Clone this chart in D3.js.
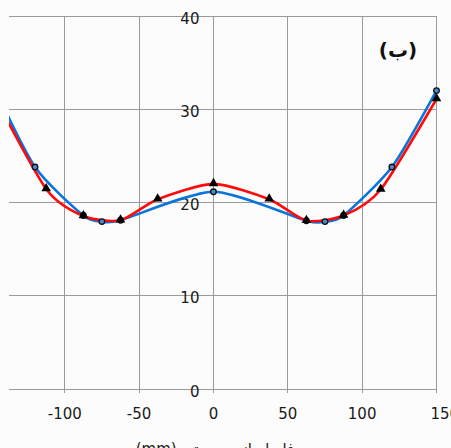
<!DOCTYPE html>
<html>
<head>
<meta charset="utf-8">
<script src="https://cdn.jsdelivr.net/npm/d3@7"></script>
<style>
  html, body { margin: 0; padding: 0; background: #fcfcfc; }
  svg { display: block; }
</style>
</head>
<body>
<svg id="chart" width="451" height="448"></svg>
<script>
// Distance from axis (mm) and measured values for the two profiles
const blueX = [-150, -120, -87.5, -75, -62.5, 0, 62.5, 75, 87.5, 120, 150];
const blueY = [33.2, 23.8, 18.6, 17.95, 18.1, 21.15, 18.05, 17.95, 18.6, 23.8, 32];
const redX  = [-150, -112.5, -87.5, -62.5, -37.5, 0, 37.5, 62.5, 87.5, 112.5, 150];
const redY  = [32.2, 21.45, 18.55, 18.1, 20.35, 22, 20.35, 18.05, 18.6, 21.4, 31.1];

const xTicks = [-100, -50, 0, 50, 100, 150];
const yTicks = [0, 10, 20, 30, 40];
const xTitle = "فاصله از محور تیر (mm)";
const panelLabel = "(ب)";

const svg = d3.select("#chart");
const plotLeft = 9, plotRight = 436.5, plotTop = 16, plotBottom = 389;

const x = d3.scaleLinear().domain([-137.5, 150]).range([plotLeft, plotRight]);
const y = d3.scaleLinear().domain([0, 40]).range([plotBottom, plotTop]);

const gridColor = "#9a9a9a";
const font = "'DejaVu Sans', Verdana, sans-serif";

// gridlines
const grid = svg.append("g");
grid.selectAll("line.v").data(xTicks).enter().append("line")
  .attr("x1", d => x(d)).attr("x2", d => x(d))
  .attr("y1", plotTop).attr("y2", plotBottom + 4)
  .attr("stroke", gridColor).attr("stroke-width", 1).attr("shape-rendering", "crispEdges");
grid.selectAll("line.h").data(yTicks).enter().append("line")
  .attr("x1", plotLeft).attr("x2", plotRight)
  .attr("y1", d => y(d)).attr("y2", d => y(d))
  .attr("stroke", gridColor).attr("stroke-width", 1).attr("shape-rendering", "crispEdges");

// y tick labels next to the vertical axis at x = 0
svg.append("g").selectAll("text").data(yTicks).enter().append("text")
  .attr("x", x(0) - 14)
  .attr("y", d => Math.max(y(d) + 3, plotTop + 1))
  .attr("text-anchor", "end")
  .attr("dominant-baseline", "middle")
  .attr("font-family", font).attr("font-size", 15)
  .attr("fill", "#1a1a1a")
  .text(d => d);

// x tick labels (the last one sits flush with the right edge)
svg.append("g").selectAll("text").data(xTicks).enter().append("text")
  .attr("x", d => d === xTicks[xTicks.length - 1] ? x(d) - 6 : x(d))
  .attr("y", 414)
  .attr("text-anchor", d => d === xTicks[xTicks.length - 1] ? "start" : "middle")
  .attr("dominant-baseline", "middle")
  .attr("font-family", font).attr("font-size", 15)
  .attr("fill", "#1a1a1a")
  .text(d => d);

// axis title
svg.append("text")
  .attr("x", 215).attr("y", 454)
  .attr("text-anchor", "middle")
  .attr("direction", "rtl")
  .attr("font-family", font).attr("font-size", 15)
  .attr("fill", "#1a1a1a")
  .text(xTitle);

// panel label
svg.append("text")
  .attr("x", 398).attr("y", 51)
  .attr("text-anchor", "middle")
  .attr("dominant-baseline", "middle")
  .attr("font-family", font).attr("font-size", 20).attr("font-weight", "bold")
  .attr("fill", "#111")
  .text(panelLabel);

// clip the curves to the plot area
svg.append("defs").append("clipPath").attr("id", "plotClip")
  .append("rect").attr("x", plotLeft).attr("y", 0).attr("width", 451 - plotLeft).attr("height", 448);

const line = d3.line().curve(d3.curveCardinal.tension(0.3))
  .x(d => x(d[0])).y(d => y(d[1]));

const blue = blueX.map((v, i) => [v, blueY[i]]);
const red = redX.map((v, i) => [v, redY[i]]);

const plot = svg.append("g").attr("clip-path", "url(#plotClip)");
plot.append("path").datum(blue).attr("d", line)
  .attr("fill", "none").attr("stroke", "#0a72dc").attr("stroke-width", 2.6);
plot.append("path").datum(red).attr("d", line)
  .attr("fill", "none").attr("stroke", "#ff0a0a").attr("stroke-width", 2.6);

// markers: circles for the blue profile, triangles for the red one on top
plot.selectAll("circle.c").data(blue).enter().append("circle")
  .attr("cx", d => x(d[0])).attr("cy", d => y(d[1]))
  .attr("r", 2.8)
  .attr("fill", "#4a8ad0").attr("stroke", "#111").attr("stroke-width", 1.3);
plot.selectAll("path.tri").data(red).enter().append("path")
  .attr("d", d3.symbol().type(d3.symbolTriangle).size(40))
  .attr("transform", d => `translate(${x(d[0])},${y(d[1]) - 0.5})`)
  .attr("fill", "#000");
</script>
</body>
</html>
